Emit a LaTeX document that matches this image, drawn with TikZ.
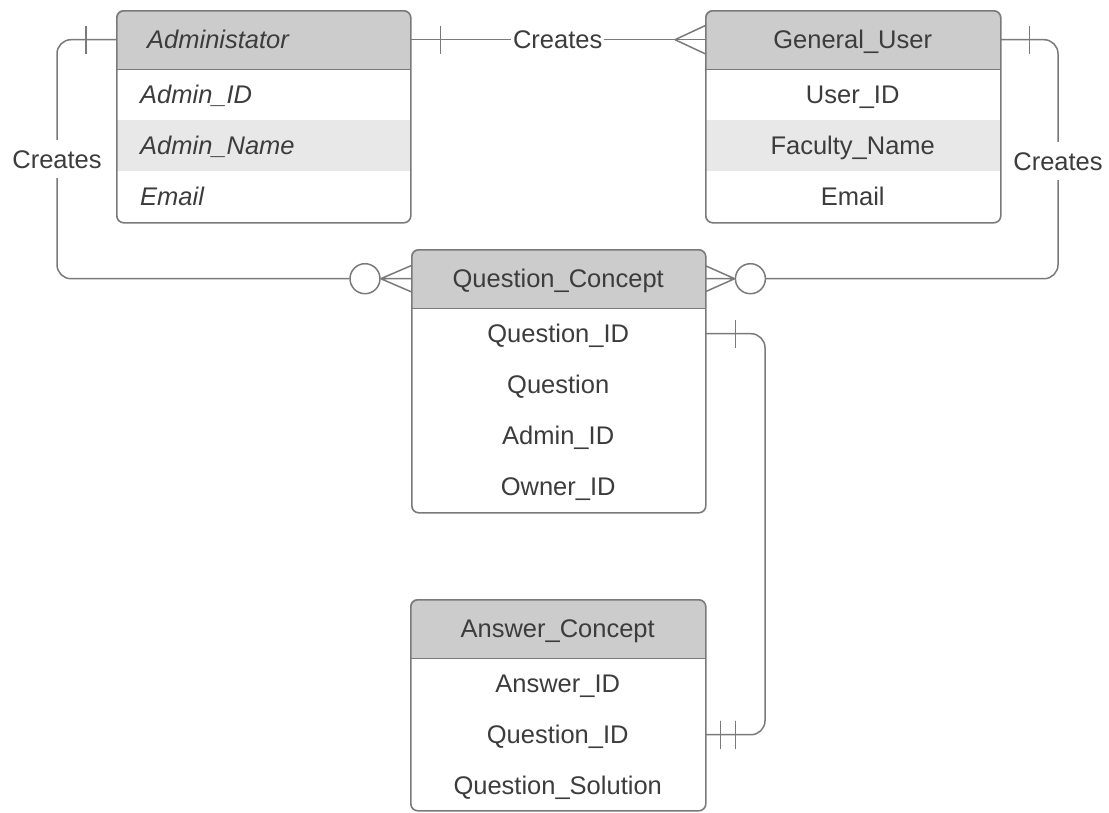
\documentclass[tikz,border=0pt]{standalone}
\usepackage{fontspec}
\setmainfont{Liberation Sans}
\usetikzlibrary{calc}
\definecolor{hdr}{HTML}{CCCCCC}
\definecolor{alt}{HTML}{E8E8E8}
\definecolor{edge}{HTML}{7A7A7A}
\definecolor{txt}{HTML}{3C3C3C}
\tikzset{
  box/.style={draw=edge, line width=1.6pt, rounded corners=7pt, inner sep=0pt, anchor=north west},
  hdrbox/.style={inner sep=0pt, anchor=north west, minimum height=59pt, text=txt, font=\fontsize{25.5}{30}\selectfont, text height=18.3pt, text depth=0pt},
  rowbox/.style={inner sep=0pt, anchor=north west, minimum height=51pt, text=txt, font=\fontsize{25.5}{30}\selectfont, text height=18.3pt, text depth=0pt},
  lbl/.style={text=txt, font=\fontsize{25.5}{30}\selectfont\itshape, inner sep=0pt, anchor=west, text height=18.3pt, text depth=0pt},
  conn/.style={draw=edge, line width=1.5pt},
  ring/.style={circle, draw=edge, line width=1.5pt, fill=white, minimum size=30pt, inner sep=0pt},
  tag/.style={text=txt, font=\fontsize{25.5}{30}\selectfont, fill=white, inner xsep=2pt, inner ysep=10pt, text height=18.3pt, text depth=0pt},
  sep/.style={draw=edge, line width=1.6pt}
}
\begin{document}
\begin{tikzpicture}[x=1pt,y=-1pt]
\useasboundingbox (0,0) rectangle (1109,812);

% ---------- Administator ----------
\begin{scope}
\clip[rounded corners=7pt] (116,10) rectangle ++(294,212);
\fill[hdr] (116,10) rectangle ++(294,59);
\fill[alt] (116,120) rectangle ++(294,51);
\end{scope}
\node[hdrbox, minimum width=294pt] (admh) at (116,10) {};
\node[rowbox, minimum width=294pt] (adm1) at (116,69) {};
\node[rowbox, minimum width=294pt] (adm2) at (116,120) {};
\node[rowbox, minimum width=294pt] (adm3) at (116,171) {};
\draw[sep] (admh.south west) -- (admh.south east);
\node[box, minimum width=294pt, minimum height=212pt] (adm) at (116,10) {};
\node[lbl] (admt) at ($(admh.west)+(31,0)$) {Administator};
\node[lbl] (admt1) at ($(adm1.west)+(24,0)$) {Admin\_ID};
\node[lbl] (admt2) at ($(adm2.west)+(24,0)$) {Admin\_Name};
\node[lbl] (admt3) at ($(adm3.west)+(24,0)$) {Email};

% ---------- General_User ----------
\begin{scope}
\clip[rounded corners=7pt] (705,10) rectangle ++(295,212);
\fill[hdr] (705,10) rectangle ++(295,59);
\fill[alt] (705,120) rectangle ++(295,51);
\end{scope}
\node[hdrbox, minimum width=295pt] (guh) at (705,10) {General\_User};
\node[rowbox, minimum width=295pt] (gu1) at (705,69) {User\_ID};
\node[rowbox, minimum width=295pt] (gu2) at (705,120) {Faculty\_Name};
\node[rowbox, minimum width=295pt] (gu3) at (705,171) {Email};
\draw[sep] (guh.south west) -- (guh.south east);
\node[box, minimum width=295pt, minimum height=212pt] (gu) at (705,10) {};

% ---------- Question_Concept ----------
\begin{scope}
\clip[rounded corners=7pt] (411,249) rectangle ++(294,263);
\fill[hdr] (411,249) rectangle ++(294,59);
\end{scope}
\node[hdrbox, minimum width=294pt] (qch) at (411,249) {Question\_Concept};
\node[rowbox, minimum width=294pt] (qc1) at (411,308) {Question\_ID};
\node[rowbox, minimum width=294pt] (qc2) at (411,359) {Question};
\node[rowbox, minimum width=294pt] (qc3) at (411,410) {Admin\_ID};
\node[rowbox, minimum width=294pt] (qc4) at (411,461) {Owner\_ID};
\draw[sep] (qch.south west) -- (qch.south east);
\node[box, minimum width=294pt, minimum height=263pt] (qc) at (411,249) {};

% ---------- Answer_Concept ----------
\begin{scope}
\clip[rounded corners=7pt] (410,599) rectangle ++(295,212);
\fill[hdr] (410,599) rectangle ++(295,59);
\end{scope}
\node[hdrbox, minimum width=295pt] (ach) at (410,599) {Answer\_Concept};
\node[rowbox, minimum width=295pt] (ac1) at (410,658) {Answer\_ID};
\node[rowbox, minimum width=295pt] (ac2) at (410,709) {Question\_ID};
\node[rowbox, minimum width=295pt] (ac3) at (410,760) {Question\_Solution};
\draw[sep] (ach.south west) -- (ach.south east);
\node[box, minimum width=295pt, minimum height=211pt] (ac) at (410,599) {};

% ---------- connectors ----------
\coordinate (lx) at (57,0);
\coordinate (rx) at (1058,0);
\coordinate (qx) at (765,0);

% Administator -- General_User
\draw[conn] (admh.east) -- (guh.west);
\draw[conn] ($(admh.east)+(30,-14)$) -- ($(admh.east)+(30,14)$);
\draw[conn] ($(guh.west)+(-30,0)$) -- ($(guh.west)+(0,-14)$)
            ($(guh.west)+(-30,0)$) -- ($(guh.west)+(0,14)$);
\node[tag, inner ysep=2pt] (c1) at ($(admh.east)!0.5!(guh.west)$) {Creates};

% Administator -- Question_Concept
\node[ring] (lring) at ($(qch.west)+(-46,0)$) {};
\draw[conn, rounded corners=14pt] (admh.west) -- (admh.west -| lx) -- (qch.west -| lx) -- (lring.west);
\draw[conn] ($(admh.west)+(-30,-14)$) -- ($(admh.west)+(-30,14)$);
\draw[conn] (lring.east) -- ($(qch.west)+(0,-13)$)
            (lring.east) -- (qch.west)
            (lring.east) -- ($(qch.west)+(0,13)$);
\node[tag] (c2) at ($(admh.west -| lx)!0.5!(qch.west -| lx)$) {Creates};

% General_User -- Question_Concept
\node[ring] (rring) at ($(qch.east)+(45,0)$) {};
\draw[conn, rounded corners=14pt] (guh.east) -- (guh.east -| rx) -- (qch.east -| rx) -- (rring.east);
\draw[conn] ($(guh.east)+(29,-14)$) -- ($(guh.east)+(29,14)$);
\draw[conn] (rring.west) -- ($(qch.east)+(0,-13)$)
            (rring.west) -- (qch.east)
            (rring.west) -- ($(qch.east)+(0,13)$);
\node[tag] (c3) at ($(guh.east -| rx)!0.5!(qch.east -| rx)+(0,2)$) {Creates};

% Question_Concept -- Answer_Concept
\draw[conn, rounded corners=14pt] (qc1.east) -- (qc1.east -| qx) -- (ac2.east -| qx) -- (ac2.east);
\draw[conn] ($(qc1.east)+(30,-14)$) -- ($(qc1.east)+(30,14)$);
\draw[conn] ($(ac2.east)+(15,-14)$) -- ($(ac2.east)+(15,14)$)
            ($(ac2.east)+(30,-14)$) -- ($(ac2.east)+(30,14)$);
\end{tikzpicture}
\end{document}
